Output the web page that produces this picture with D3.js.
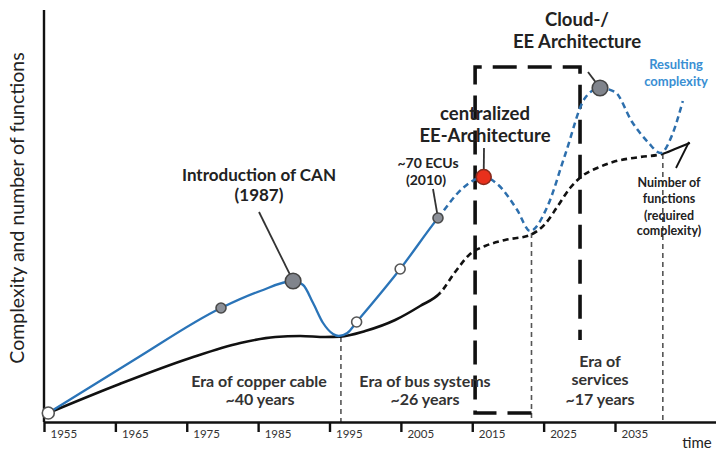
<!DOCTYPE html>
<html><head><meta charset="utf-8">
<script src="https://cdn.jsdelivr.net/npm/d3@7"></script>
<style>
body{margin:0;background:#fff}
svg{display:block}
text{font-family:Lato,"Open Sans","Liberation Sans",sans-serif}
</style>
</head><body>
<svg id="chart" width="716" height="452"></svg>
<script>
// ---- data (arbitrary "complexity" units 0..100) ----
const tickYears = [1955, 1965, 1975, 1985, 1995, 2005, 2015, 2025, 2035];

const blueYears  = [1955.6, 1967.6, 1979.8, 1985.3, 1989.9, 1991.3, 1992.7, 1994.1, 1995.5, 1996.3, 1997.5, 1998.8, 2004.9, 2010.2, 2013.7, 2016.6, 2018.5, 2021.3, 2023.1, 2025.5, 2028.0, 2030.8, 2032.9, 2035.0, 2037.4, 2039.6, 2041.4, 2043.0, 2044.5];
const blueValues = [0, 13.25, 26.25, 30.5, 33, 32, 27.5, 22.5, 19.75, 19.25, 20, 22.75, 36, 48.75, 56.25, 59, 57.25, 50.75, 45.5, 51.5, 64.5, 78.75, 81.25, 80.25, 72.75, 67.75, 65, 69.5, 78];
const blueDashedFromYear = 2010.2;

const blackYears  = [1955.6, 1965.6, 1975.5, 1982.5, 1987.4, 1990.9, 1994.4, 1996.5, 2000.0, 2004.2, 2007.7, 2010.5, 2012.6, 2014.7, 2016.8, 2019.6, 2023.1, 2025.2, 2026.9, 2028.7, 2030.4, 2032.5, 2034.7, 2038.5, 2041.6, 2043.4, 2045.5];
const blackValues = [0, 7.25, 13.75, 17.5, 19, 19.25, 19, 19.1, 20.5, 23.25, 26.75, 30, 35.25, 39.75, 41.75, 43.25, 44.5, 47.25, 51.5, 56.25, 59.25, 61.25, 62.75, 64, 64.75, 66, 67.5];
const blackDashedYears = [2010.5, 2041.6];

const markerYears  = [1955.6, 1979.8, 1989.9, 1998.8, 2004.9, 2010.2, 2016.6, 2032.9];
const markerValues = [0, 26.25, 33, 22.75, 36, 48.75, 59, 81.25];
const markerKinds  = ["open", "grey", "greyBig", "open", "open", "grey", "red", "greyBig"];

const eraBoundaryYears  = [1996.6, 2023.3, 2041.7];
const eraBoundaryTops   = [19, 45, 64.75];

const boxLeftYear = 2015.4, boxRightYear = 2030.1, boxTopValue = 86.5;
const boxRightEndValue = 18.25, boxBottomEndYear = 2023.3;

// ---- drawing ----
const svg = d3.select("#chart");
const x = d3.scaleLinear().domain([1955, 2049.15]).range([44, 716]);
const y = d3.scaleLinear().domain([0, 100]).range([413, 13]);
const axisY = 422;

// era boundaries
svg.append("g").selectAll("line").data(eraBoundaryYears).join("line")
  .attr("x1", d => x(d)).attr("x2", d => x(d))
  .attr("y1", (d, i) => y(eraBoundaryTops[i])).attr("y2", axisY)
  .attr("stroke", "#555").attr("stroke-width", 1.6).attr("stroke-dasharray", "5,4");

// dashed box
const boxPath = d3.path();
boxPath.moveTo(x(boxBottomEndYear), y(0));
boxPath.lineTo(x(boxLeftYear), y(0));
boxPath.lineTo(x(boxLeftYear), y(boxTopValue));
boxPath.lineTo(x(boxRightYear), y(boxTopValue));
boxPath.lineTo(x(boxRightYear), y(boxRightEndValue));
svg.append("path").attr("d", boxPath.toString()).attr("fill", "none")
  .attr("stroke", "#111").attr("stroke-width", 3.6).attr("stroke-dasharray", "24,11");

// clip paths
const defs = svg.append("defs");
function clip(id, x0, x1) {
  defs.append("clipPath").attr("id", id).append("rect")
    .attr("x", x0).attr("y", 0).attr("width", x1 - x0).attr("height", 452);
}
clip("blueSolid", 0, x(blueDashedFromYear));
clip("blueDash", x(blueDashedFromYear), 716);
clip("blackSolidA", 0, x(blackDashedYears[0]));
clip("blackDash", x(blackDashedYears[0]), x(blackDashedYears[1]));
clip("blackSolidB", x(blackDashedYears[1]), 716);

const line = d3.line().x(d => x(d[0])).y(d => y(d[1])).curve(d3.curveMonotoneX);
const blackPts = blackYears.map((d, i) => [d, blackValues[i]]);
const bluePts = blueYears.map((d, i) => [d, blueValues[i]]);

const blackD = line(blackPts);
svg.append("path").attr("d", blackD).attr("clip-path", "url(#blackSolidA)")
  .attr("fill", "none").attr("stroke", "#111").attr("stroke-width", 2.6);
svg.append("path").attr("d", blackD).attr("clip-path", "url(#blackDash)")
  .attr("fill", "none").attr("stroke", "#111").attr("stroke-width", 2.6).attr("stroke-dasharray", "6,4");
svg.append("path").attr("d", blackD).attr("clip-path", "url(#blackSolidB)")
  .attr("fill", "none").attr("stroke", "#111").attr("stroke-width", 2.2);

const blueD = line(bluePts);
svg.append("path").attr("d", blueD).attr("clip-path", "url(#blueSolid)")
  .attr("fill", "none").attr("stroke", "#2a74b8").attr("stroke-width", 2.3);
svg.append("path").attr("d", blueD).attr("clip-path", "url(#blueDash)")
  .attr("fill", "none").attr("stroke", "#2d6fad").attr("stroke-width", 2.5).attr("stroke-dasharray", "6,4");

// axes
svg.append("line").attr("x1", x(1955)).attr("x2", x(1955)).attr("y1", 10).attr("y2", axisY)
  .attr("stroke", "#111").attr("stroke-width", 2.4);
const xAxis = d3.axisBottom(x).tickValues(tickYears).tickSize(10).tickSizeOuter(0).tickFormat(d3.format("d"));
const gx = svg.append("g").attr("transform", `translate(0,${axisY})`).call(xAxis);
gx.select(".domain").attr("stroke", "#111").attr("stroke-width", 2.4);
gx.selectAll(".tick line").attr("stroke", "#111").attr("stroke-width", 2.4);
gx.selectAll(".tick text").attr("x", 6).attr("y", 16).attr("dy", 0).attr("text-anchor", "start")
  .attr("font-family", "Lato").attr("font-size", 11.5).attr("fill", "#333");

// leaders
function leader(x1, y1, mi, r) {
  const mx = x(markerYears[mi]), my = y(markerValues[mi]);
  const dx = mx - x1, dy = my - y1, L = Math.hypot(dx, dy);
  svg.append("line").attr("x1", x1).attr("y1", y1)
    .attr("x2", mx - dx / L * r).attr("y2", my - dy / L * r)
    .attr("stroke", "#333").attr("stroke-width", 1.8);
}
leader(259, 212, 2, 7);
leader(433, 189, 5, 4);
leader(484, 148, 6, 7);
leader(588, 72, 7, 7);
svg.append("line").attr("x1", 676).attr("y1", 168).attr("x2", 689).attr("y2", 142)
  .attr("stroke", "#111").attr("stroke-width", 1.8);

// markers
const style = {
  open:    {r: 5, fill: "#fff", stroke: "#555"},
  grey:    {r: 5, fill: "#8c9098", stroke: "#4a4a4a"},
  greyBig: {r: 7.8, fill: "#80848c", stroke: "#444"},
  red:     {r: 7.5, fill: "#e8301c", stroke: "#8a2a1c"}
};
svg.append("g").selectAll("circle").data(markerYears).join("circle")
  .attr("cx", d => x(d)).attr("cy", (d, i) => y(markerValues[i]))
  .attr("r", (d, i) => i === 0 ? 6 : style[markerKinds[i]].r)
  .attr("fill", (d, i) => style[markerKinds[i]].fill)
  .attr("stroke", (d, i) => style[markerKinds[i]].stroke).attr("stroke-width", 1.6);

// texts
function txt(t, px, py, size, weight, fill, anchor) {
  return svg.append("text").attr("x", px).attr("y", py).attr("font-size", size)
    .attr("font-weight", weight || "bold").attr("fill", fill || "#222")
    .attr("text-anchor", anchor || "middle").text(t);
}
txt("Introduction of CAN", 259, 181, 17);
txt("(1987)", 259, 201, 17);
txt("centralized", 485, 120, 18.5);
txt("EE-Architecture", 485, 142, 18.5);
txt("Cloud-/", 577, 26, 18.5);
txt("EE Architecture", 577, 48, 18.5);
txt("~70 ECUs", 428, 168, 14);
txt("(2010)", 426, 185, 14);
txt("Resulting", 676, 69, 13, "bold", "#3a8fd3");
txt("complexity", 676, 86, 13, "bold", "#3a8fd3");
txt("Nuimber of", 669, 187, 12.5);
txt("functions", 669, 203, 12.5);
txt("(required", 669, 220, 12.5);
txt("complexity)", 669, 235, 12.5);
txt("Era of copper cable", 259, 387, 16, "bold", "#333");
txt("~40 years", 260, 405, 16, "bold", "#333");
txt("Era of bus systems", 425, 387, 16, "bold", "#333");
txt("~26 years", 425, 405, 16, "bold", "#333");
txt("Era of", 600, 367, 16, "bold", "#333");
txt("services", 600, 385, 16, "bold", "#333");
txt("~17 years", 600, 405, 16, "bold", "#333");
txt("time", 697, 448, 15, "normal", "#222");
txt("Complexity and number of functions", 0, 0, 19.5, "normal", "#222")
  .attr("transform", "translate(24,208) rotate(-90)");
</script>
</body></html>
